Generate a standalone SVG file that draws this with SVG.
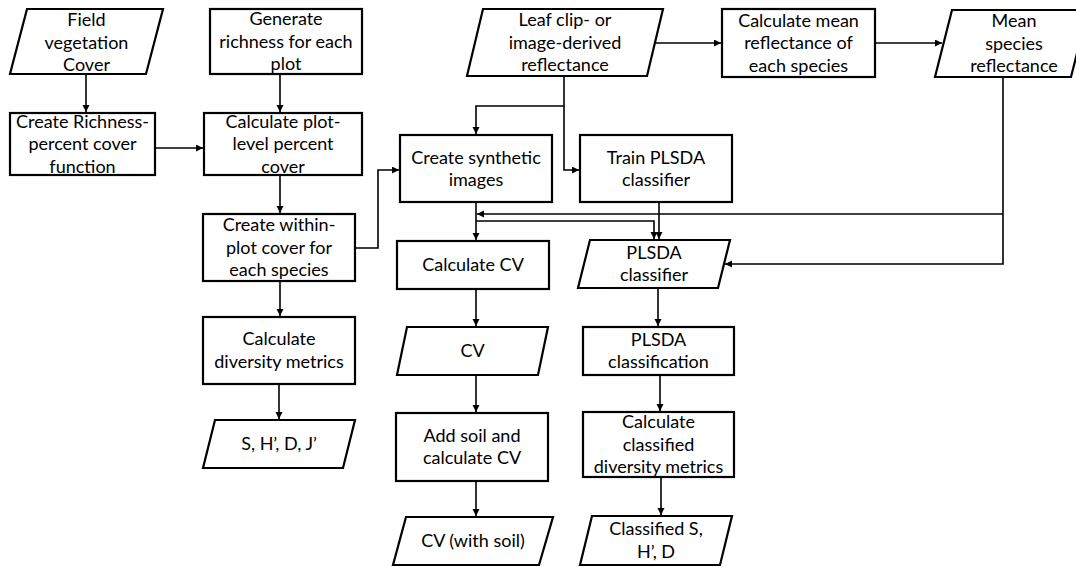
<svg xmlns="http://www.w3.org/2000/svg" width="1076" height="567" viewBox="0 0 1076 567">
<defs>
<marker id="ah" markerUnits="userSpaceOnUse" markerWidth="8" markerHeight="8" refX="7" refY="3.5" orient="auto">
<path d="M0,0 L7,3.5 L0,7 z" fill="#000"/>
</marker>
<style>
.n{fill:#fff;stroke:#000;stroke-width:2.2}
.t{font-family:Lato,"Liberation Sans",sans-serif;font-size:18px;fill:#000;text-anchor:middle}
.c{fill:none;stroke:#000;stroke-width:1.6}
.a{marker-end:url(#ah)}
</style>
</defs>
<rect width="1076" height="567" fill="#fff"/>
<g id="connectors">
<path class="c a" d="M86,74 V112"/>
<path class="c a" d="M280,74 V112"/>
<path class="c a" d="M155,148 H203"/>
<path class="c a" d="M280,175 V213"/>
<path class="c a" d="M280,281 V316"/>
<path class="c a" d="M279,384 V419"/>
<path class="c a" d="M355,248 H378 V170 H399"/>
<path class="c a" d="M655,43 H721"/>
<path class="c a" d="M875,43 H942"/>
<path class="c a" d="M564,76 V170 H579"/>
<path class="c a" d="M564,106 H476 V134"/>
<path class="c a" d="M476,202 V240"/>
<path class="c a" d="M1003,77 V264 H725"/>
<path class="c a" d="M1003,214 H477"/>
<path class="c a" d="M476,221 H654 V239"/>
<path class="c a" d="M659,202 V239"/>
<path class="c a" d="M476,289 V326"/>
<path class="c a" d="M476,375 V412"/>
<path class="c a" d="M476,481 V516"/>
<path class="c a" d="M658,288 V326"/>
<path class="c a" d="M660,375 V411"/>
<path class="c a" d="M661,477 V515"/>
</g>
<g id="field-cover">
<polygon class="n" points="27,9 163,9 146,74 10,74"/>
<text class="t" x="86.5" y="26">Field</text>
<text class="t" x="86.5" y="48.5">vegetation</text>
<text class="t" x="86.5" y="71">Cover</text>
</g>
<g id="generate-richness">
<rect class="n" x="210" y="9" width="152" height="65"/>
<text class="t" x="286" y="25">Generate</text>
<text class="t" x="286" y="47.5">richness for each</text>
<text class="t" x="286" y="70">plot</text>
</g>
<g id="richness-function">
<rect class="n" x="10" y="113" width="145" height="62"/>
<text class="t" x="82.5" y="127.5">Create Richness-</text>
<text class="t" x="82.5" y="150">percent cover</text>
<text class="t" x="82.5" y="172.5">function</text>
</g>
<g id="plot-cover">
<rect class="n" x="204" y="113" width="158" height="62"/>
<text class="t" x="283" y="127.5">Calculate plot-</text>
<text class="t" x="283" y="150">level percent</text>
<text class="t" x="283" y="172.5">cover</text>
</g>
<g id="within-plot">
<rect class="n" x="203" y="214" width="152" height="67"/>
<text class="t" x="279" y="231">Create within-</text>
<text class="t" x="279" y="253.5">plot cover for</text>
<text class="t" x="279" y="276">each species</text>
</g>
<g id="diversity">
<rect class="n" x="203" y="317" width="152" height="67"/>
<text class="t" x="279" y="345">Calculate</text>
<text class="t" x="279" y="367.5">diversity metrics</text>
</g>
<g id="metrics">
<polygon class="n" points="215,420 355,420 343,468 203,468"/>
<text class="t" x="279" y="450">S, H’, D, J’</text>
</g>
<g id="leaf-reflectance">
<polygon class="n" points="483,9 663,9 647,76 467,76"/>
<text class="t" x="565" y="26">Leaf clip- or</text>
<text class="t" x="565" y="48.5">image-derived</text>
<text class="t" x="565" y="71">reflectance</text>
</g>
<g id="mean-reflectance">
<rect class="n" x="722" y="9" width="153" height="68"/>
<text class="t" x="798.5" y="26.5">Calculate mean</text>
<text class="t" x="798.5" y="49">reflectance of</text>
<text class="t" x="798.5" y="71.5">each species</text>
</g>
<g id="mean-species">
<polygon class="n" points="952,10 1088,10 1071,77 935,77"/>
<text class="t" x="1014" y="27">Mean</text>
<text class="t" x="1014" y="49.5">species</text>
<text class="t" x="1014" y="72">reflectance</text>
</g>
<g id="synthetic">
<rect class="n" x="400" y="135" width="152" height="67"/>
<text class="t" x="476" y="163.5">Create synthetic</text>
<text class="t" x="476" y="186">images</text>
</g>
<g id="train">
<rect class="n" x="580" y="135" width="152" height="67"/>
<text class="t" x="656" y="163.5">Train PLSDA</text>
<text class="t" x="656" y="186">classifier</text>
</g>
<g id="calc-cv">
<rect class="n" x="397" y="241" width="152" height="48"/>
<text class="t" x="473" y="271">Calculate CV</text>
</g>
<g id="cv">
<polygon class="n" points="407,327 548,327 538,375 397,375"/>
<text class="t" x="472.5" y="357">CV</text>
</g>
<g id="add-soil">
<rect class="n" x="396" y="413" width="152" height="68"/>
<text class="t" x="472" y="441.5">Add soil and</text>
<text class="t" x="472" y="464">calculate CV</text>
</g>
<g id="cv-soil">
<polygon class="n" points="406,517 553,517 539,565 393,565"/>
<text class="t" x="473" y="547">CV (with soil)</text>
</g>
<g id="plsda-classifier">
<polygon class="n" points="590,240 730,240 718,288 578,288"/>
<text class="t" x="654" y="258.5">PLSDA</text>
<text class="t" x="654" y="281">classifier</text>
</g>
<g id="plsda-classification">
<rect class="n" x="583" y="327" width="151" height="48"/>
<text class="t" x="658.5" y="345.5">PLSDA</text>
<text class="t" x="658.5" y="368">classification</text>
</g>
<g id="classified-diversity">
<rect class="n" x="583" y="412" width="151" height="65"/>
<text class="t" x="658.5" y="428">Calculate</text>
<text class="t" x="658.5" y="450.5">classified</text>
<text class="t" x="658.5" y="473">diversity metrics</text>
</g>
<g id="classified-metrics">
<polygon class="n" points="592,516 732,516 720,565 580,565"/>
<text class="t" x="656" y="535">Classified S,</text>
<text class="t" x="656" y="557.5">H’, D</text>
</g>
</svg>
